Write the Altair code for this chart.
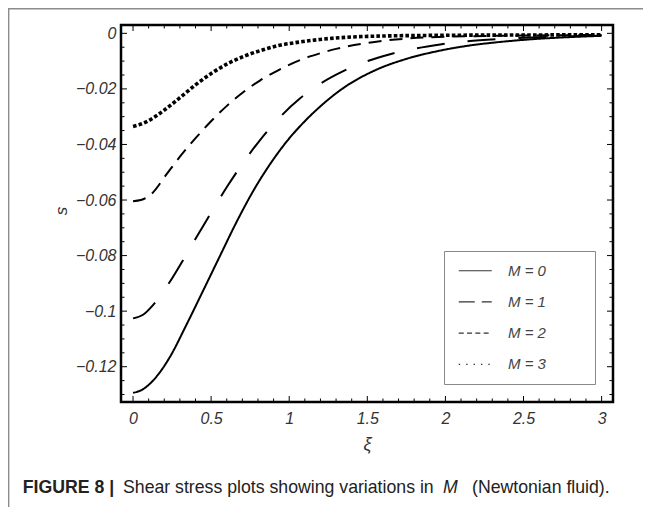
import altair as alt
import pandas as pd

# ---------------- data ----------------
labels = ["M = 0", "M = 1", "M = 2", "M = 3"]

xi_0 = [0, 0.064, 0.128, 0.235, 0.342, 0.449, 0.556, 0.662, 0.769, 0.876, 0.983, 1.09, 1.197,
        1.346, 1.55, 1.75, 1.95, 2.14, 2.35, 2.56, 2.78, 3.0]
s_0 = [-0.1294, -0.1281, -0.1250, -0.1166, -0.1049, -0.0926, -0.0802, -0.0680, -0.0568, -0.0472,
       -0.0390, -0.0322, -0.0264, -0.0197, -0.0133, -0.0092, -0.0064, -0.0045, -0.0031, -0.0021,
       -0.0014, -0.0009]

xi_1 = [0, 0.064, 0.128, 0.235, 0.331, 0.423, 0.513, 0.609, 0.716, 0.812, 0.94, 1.07, 1.197,
        1.346, 1.496, 1.646, 1.966, 2.35, 2.7, 3.0]
s_1 = [-0.1026, -0.1013, -0.0978, -0.0895, -0.0806, -0.0718, -0.0633, -0.0546, -0.0457, -0.0385,
       -0.0302, -0.0234, -0.0182, -0.0136, -0.0101, -0.0075, -0.0040, -0.0020, -0.0012, -0.0008]

xi_2 = [0, 0.05, 0.118, 0.214, 0.299, 0.385, 0.492, 0.599, 0.705, 0.812, 0.929, 1.07, 1.197,
        1.3, 1.6, 2.03, 2.5, 3.0]
s_2 = [-0.0604, -0.0600, -0.0578, -0.0508, -0.0445, -0.0387, -0.0321, -0.0262, -0.0212, -0.0170,
       -0.0133, -0.0096, -0.0072, -0.0056, -0.0027, -0.0012, -0.0008, -0.0006]

xi_3 = [0, 0.085, 0.192, 0.299, 0.406, 0.513, 0.62, 0.727, 0.833, 0.94, 1.07, 1.197, 1.5, 2.0,
        2.5, 3.0]
s_3 = [-0.0335, -0.0319, -0.0280, -0.0232, -0.0183, -0.0140, -0.0105, -0.0079, -0.0059, -0.0043,
       -0.0031, -0.0022, -0.0011, -0.0007, -0.0006, -0.0005]

x_major = [0, 0.5, 1, 1.5, 2, 2.5, 3]
x_minor = [round(i * 0.1, 2) for i in range(31) if i % 5]
y_major = [0, -0.02, -0.04, -0.06, -0.08, -0.1, -0.12]
y_minor = [round(-i * 0.005, 3) for i in range(27) if i % 4]

caption_bold = ["FIGURE 8 |"]
caption_text = ["Shear stress plots showing variations in"]
caption_var = ["M"]
caption_end = ["(Newtonian fluid)."]

# ---------------- build ----------------
rows = []
for lab, xs_, ss_ in zip(labels, [xi_0, xi_1, xi_2, xi_3], [s_0, s_1, s_2, s_3]):
    for a, b in zip(xs_, ss_):
        rows.append({"M": lab, "xi": a, "s": b})
df = pd.DataFrame(rows)

W, H = 492, 377
FONT = "Liberation Sans"
xs = alt.Scale(domain=[-0.077, 3.073], nice=False, zero=False)
ys = alt.Scale(domain=[-0.1327, 0.003], nice=False, zero=False)

xaxis = alt.Axis(
    values=x_major, format="~g", title="ξ", grid=False, domain=False, ticks=False, tickSize=0,
    labelFont=FONT, labelFontStyle="italic", labelFontSize=16, labelColor="#333",
    labelPadding=8, labelFlush=False, labelOverlap=False,
    titleFont=FONT, titleFontStyle="italic", titleFontWeight="normal", titleFontSize=18,
    titleColor="#333", titleX=W / 2, titleY=47, titleBaseline="alphabetic")
yaxis = alt.Axis(
    values=y_major, title="s", grid=False, domain=False, ticks=False, tickSize=0,
    labelExpr="datum.value == 0 ? '0' : replace(format(datum.value, '.2~f'), '-', '−')",
    labelFont=FONT, labelFontStyle="italic", labelFontSize=16, labelColor="#333",
    labelPadding=5, labelOverlap=False,
    titleFont=FONT, titleFontStyle="italic", titleFontWeight="normal", titleFontSize=17,
    titleColor="#333", titleX=-60, titleY=H / 2 - 3, titleAngle=-90,
    titleAlign="center", titleBaseline="middle")

plot_dashes = [[1, 0], [28, 23], [13, 8], [3.6, 2.2]]
legend_dashes = [[1, 0], [16, 7], [5, 3.3], [1.4, 6]]
dash_scale = alt.Scale(domain=labels, range=plot_dashes)


def curve_layer(filter_expr, width):
    return alt.Chart(df).transform_filter(filter_expr).mark_line(
        interpolate="monotone", color="black", strokeWidth=width).encode(
        x=alt.X("xi:Q", scale=xs, axis=xaxis),
        y=alt.Y("s:Q", scale=ys, axis=yaxis),
        strokeDash=alt.StrokeDash("M:N", scale=dash_scale, legend=None),
        detail="M:N",
    )


lines_main = curve_layer("datum.M != 'M = 3'", 2)
lines_dot = curve_layer("datum.M == 'M = 3'", 3.6)

legend_layer = alt.Chart(df).transform_filter("false").mark_line(color="#333", strokeWidth=1.2).encode(
    x=alt.X("xi:Q", scale=xs, axis=xaxis),
    y=alt.Y("s:Q", scale=ys, axis=yaxis),
    strokeDash=alt.StrokeDash("M:N", scale=alt.Scale(domain=labels, range=legend_dashes),
                              legend=alt.Legend(
                                  orient="none", legendX=323, legendY=226,
                                  title="MMM", titleOrient="right", titleColor="rgba(0,0,0,0)",
                                  titleFontSize=15, titlePadding=1,
                                  symbolType="M-1,0H3", symbolSize=272, symbolOffset=3.25,
                                  symbolStrokeWidth=1.2, symbolStrokeColor="#333",
                                  symbolFillColor="transparent",
                                  labelFont=FONT, labelFontStyle="italic", labelFontSize=15,
                                  labelColor="#444", labelOffset=32, labelBaseline="middle",
                                  padding=10.75, rowPadding=14.2,
                                  strokeColor="#888", fillColor="white")),
)


def xtick_layers(vals, length):
    d = pd.DataFrame({"v": vals})
    base = alt.Chart(d).mark_rule(color="black", strokeWidth=1)
    return [
        base.encode(x=alt.X("v:Q", scale=xs, axis=xaxis), y=alt.value(H), y2=alt.value(H - length)),
        base.encode(x=alt.X("v:Q", scale=xs, axis=xaxis), y=alt.value(0), y2=alt.value(length)),
    ]


def ytick_layers(vals, length):
    d = pd.DataFrame({"v": vals})
    base = alt.Chart(d).mark_rule(color="black", strokeWidth=1)
    return [
        base.encode(y=alt.Y("v:Q", scale=ys, axis=yaxis), x=alt.value(0), x2=alt.value(length)),
        base.encode(y=alt.Y("v:Q", scale=ys, axis=yaxis), x=alt.value(W), x2=alt.value(W - length)),
    ]


ticks = (xtick_layers(x_major, 6) + xtick_layers(x_minor, 3.5)
         + ytick_layers(y_major, 6) + ytick_layers(y_minor, 3.5))

one = pd.DataFrame({"k": [0]})
frame_left = alt.Chart(one).mark_rule(color="#8c8c8c", strokeWidth=1.4).encode(
    x=alt.value(-112.3), y=alt.value(-17), y2=alt.value(H + 105))
frame_top = alt.Chart(one).mark_rule(color="#8c8c8c", strokeWidth=1.4).encode(
    x=alt.value(-113), x2=alt.value(W + 30), y=alt.value(-16.3))

cap_y = 468


def cap(texts, xpos, weight="normal", style="normal"):
    return alt.Chart(pd.DataFrame({"t": texts})).mark_text(
        font=FONT, fontSize=17.7, fontWeight=weight, fontStyle=style, color="#222",
        align="left", baseline="alphabetic").encode(
        text="t:N", x=alt.value(xpos), y=alt.value(cap_y))


captions = [
    cap(caption_bold, -98.3, weight="bold"),
    cap(caption_text, 2),
    cap(caption_var, 322, style="italic"),
    cap(caption_end, 351),
]

chart = alt.layer(
    lines_main, lines_dot, legend_layer, *ticks, frame_left, frame_top, *captions
).resolve_scale(
    strokeDash="independent"
).properties(
    width=W, height=H,
    padding={"left": 113, "top": 17, "right": 30, "bottom": 105},
    autosize=alt.AutoSizeParams(type="none"),
    background="white",
).configure_view(stroke="black", strokeWidth=2.5)

chart.save("out.html", embed_options={"renderer": "svg", "actions": False})
